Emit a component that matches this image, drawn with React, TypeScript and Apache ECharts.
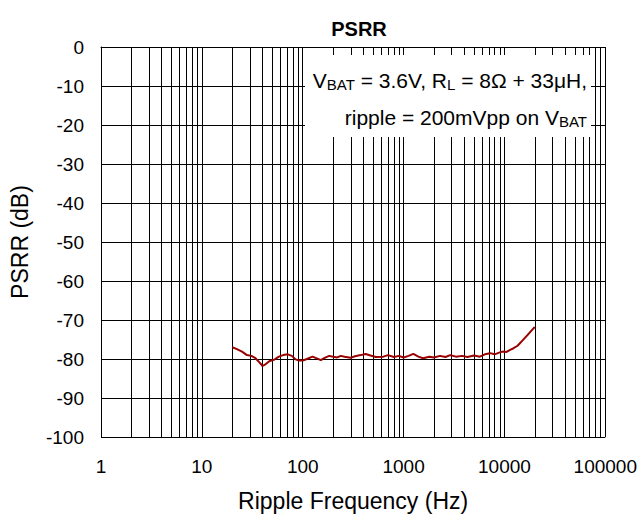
import React, { useEffect, useRef } from "react";
import * as echarts from "echarts";

const freqHz = [20, 22, 25, 28, 31, 34, 37, 40, 43, 47, 52, 58, 64, 71, 78, 85, 92, 100, 110, 125, 140, 151, 165, 183, 200, 220, 238, 260, 298, 330, 375, 420, 470, 530, 630, 700, 800, 900, 1000, 1120, 1250, 1400, 1560, 1800, 2000, 2300, 2600, 2900, 3300, 3800, 4300, 5000, 5700, 6400, 7200, 8000, 9000, 9600, 10500, 11500, 12200, 13500, 15300, 17000, 19000, 20000];
const psrrDb = [-77.0, -77.4, -78.1, -79.0, -79.2, -79.8, -80.8, -81.8, -81.3, -80.5, -80.2, -79.4, -79.0, -78.8, -79.2, -80.1, -80.4, -80.4, -80.0, -79.4, -79.9, -80.3, -79.7, -79.2, -79.4, -79.6, -79.2, -79.4, -79.7, -79.3, -79.0, -78.7, -79.1, -79.5, -79.4, -79.0, -79.5, -79.2, -79.6, -79.2, -78.7, -79.4, -79.8, -79.4, -79.6, -79.2, -79.5, -79.0, -79.4, -79.2, -79.5, -79.1, -79.4, -78.8, -78.5, -78.8, -78.3, -78.1, -78.2, -77.6, -77.3, -76.6, -75.1, -73.8, -72.4, -71.8];
const minorGridFreqs = [2, 3, 4, 5, 6, 7, 8, 9, 20, 30, 40, 50, 60, 70, 80, 90, 200, 300, 400, 500, 600, 700, 800, 900, 2000, 3000, 4000, 5000, 6000, 7000, 8000, 9000, 20000, 30000, 40000, 50000, 60000, 70000, 80000, 90000];

const FONT = "'Liberation Sans', Arial, sans-serif";

export default function App() {
  const ref = useRef<HTMLDivElement>(null);
  useEffect(() => {
    if (!ref.current) return;
    const chart = echarts.init(ref.current, undefined, { renderer: "svg" });
    const subStyle = { fontSize: 15, lineHeight: 15, verticalAlign: "bottom", fill: "#000", fontFamily: FONT };
    chart.setOption({
      animation: false,
      backgroundColor: "#fff",
      textStyle: { fontFamily: FONT },
      title: {
        text: "PSRR",
        left: 354,
        textAlign: "center",
        top: 14,
        textStyle: { fontSize: 20, fontWeight: "bold", color: "#000", fontFamily: FONT },
      },
      grid: { left: 99, right: 34, top: 47, bottom: 81 },
      xAxis: {
        type: "log",
        logBase: 10,
        min: 1,
        max: 100000,
        splitNumber: 5,
        name: "Ripple Frequency (Hz)",
        nameLocation: "middle",
        nameGap: 52,
        nameTextStyle: { fontSize: 23, color: "#000", fontFamily: FONT },
        axisLine: { show: true, lineStyle: { color: "#000", width: 1 } },
        axisTick: { show: false },
        axisLabel: {
          fontSize: 19,
          color: "#000",
          margin: 20,
          fontFamily: FONT,
          formatter: (v: number) => String(Math.round(v)),
        },
        splitLine: { show: true, lineStyle: { color: "#000", width: 1 } },
      },
      yAxis: {
        type: "value",
        min: -100,
        max: 0,
        interval: 10,
        name: "PSRR (dB)",
        nameLocation: "middle",
        nameGap: 70,
        nameTextStyle: { fontSize: 23, color: "#000", fontFamily: FONT },
        axisLine: { show: true, lineStyle: { color: "#000", width: 1 } },
        axisTick: { show: false },
        axisLabel: { fontSize: 19, color: "#000", margin: 17, fontFamily: FONT },
        splitLine: { show: true, lineStyle: { color: "#000", width: 1 } },
      },
      graphic: [
        {
          type: "rect",
          shape: { x: 305, y: 55, width: 286, height: 82 },
          style: { fill: "#fff" },
          z: 100,
        },
        {
          type: "text",
          x: 587,
          y: 80,
          z: 101,
          style: {
            text: "V{sub|BAT} = 3.6V, R{sub|L} = 8Ω + 33μH,",
            align: "right",
            verticalAlign: "middle",
            fill: "#000",
            fontSize: 21,
            fontFamily: FONT,
            lineHeight: 24,
            rich: { sub: subStyle },
          },
        },
        {
          type: "text",
          x: 587,
          y: 117,
          z: 101,
          style: {
            text: "ripple = 200mVpp on V{sub|BAT}",
            align: "right",
            verticalAlign: "middle",
            fill: "#000",
            fontSize: 21,
            fontFamily: FONT,
            lineHeight: 24,
            rich: { sub: subStyle },
          },
        },
      ],
      series: [
        {
          type: "line",
          data: [],
          silent: true,
          markLine: {
            silent: true,
            symbol: ["none", "none"],
            label: { show: false },
            lineStyle: { color: "#000", width: 1, type: "solid" },
            data: minorGridFreqs.map((f) => ({ xAxis: f })),
          },
        },
        {
          type: "line",
          data: freqHz.map((f, i) => [f, psrrDb[i]]),
          showSymbol: false,
          symbol: "none",
          lineStyle: { color: "#990000", width: 2 },
          z: 10,
        },
      ],
    });
    return () => chart.dispose();
  }, []);
  return <div ref={ref} style={{ width: 640, height: 518, position: "absolute", left: 0, top: 0 }} />;
}
